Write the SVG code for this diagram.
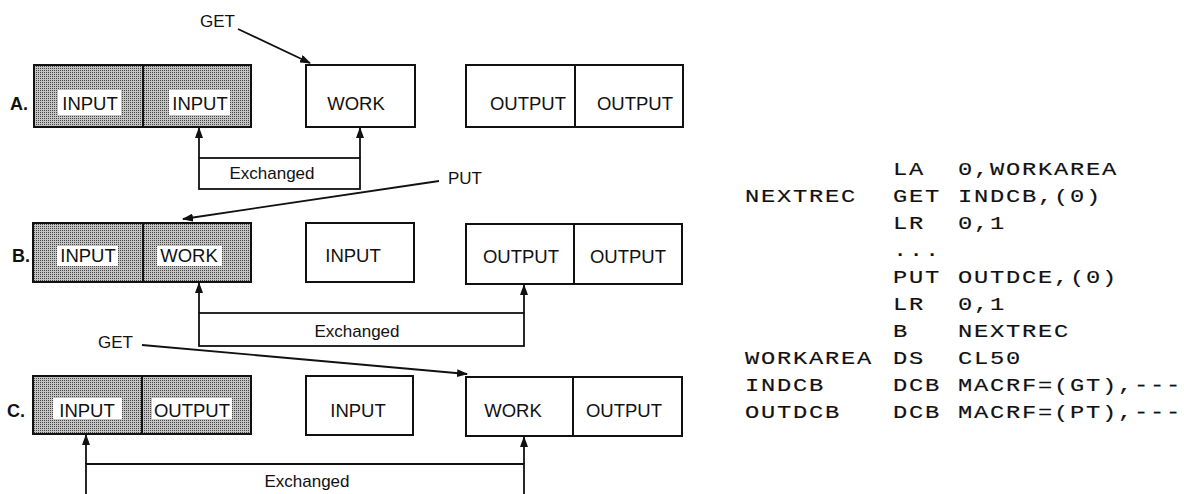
<svg xmlns="http://www.w3.org/2000/svg" width="1184" height="494" viewBox="0 0 1184 494">
<style>
.box{fill:#fff;stroke:#111;stroke-width:2}
.shade{fill:url(#stip);stroke:#111;stroke-width:2}
.lbl{font-family:"Liberation Sans",Arial,sans-serif;font-size:18.5px;fill:#111;text-anchor:middle}
.row{font-family:"Liberation Sans",Arial,sans-serif;font-size:18px;fill:#111;font-weight:bold}
.tag{font-family:"Liberation Sans",Arial,sans-serif;font-size:17px;fill:#111}
.bg{fill:#fff}
.ln{fill:none;stroke:#111;stroke-width:1.8}
.arr{fill:none;stroke:#111;stroke-width:1.8;marker-end:url(#ah)}
.code{font-family:"Liberation Mono","Courier New",monospace;font-size:19px;letter-spacing:1.4px;fill:#111;stroke:#111;stroke-width:0.15}
</style>
<defs>
<pattern id="stip" width="2" height="2" patternUnits="userSpaceOnUse">
<rect width="2" height="2" fill="#c4c4c4"/>
<rect x="0" y="0" width="1" height="1" fill="#444"/>
</pattern>
<marker id="ah" markerWidth="11" markerHeight="8" refX="10" refY="4" orient="auto" markerUnits="userSpaceOnUse">
<path d="M0,0 L11,4 L0,8 z" fill="#111"/>
</marker>
</defs>

<g id="rowA">
<text class="row" x="10" y="110">A.</text>
<g id="A-input1"><rect class="shade" x="34" y="65" width="109" height="62"/><rect class="bg" x="58" y="90" width="63" height="25"/><text class="lbl" x="90" y="110">INPUT</text></g>
<g id="A-input2"><rect class="shade" x="143" y="65" width="108" height="62"/><rect class="bg" x="169" y="90" width="61" height="25"/><text class="lbl" x="200" y="110">INPUT</text></g>
<g id="A-work"><rect class="box" x="306" y="65" width="109" height="62"/><text class="lbl" x="356" y="110">WORK</text></g>
<g id="A-output1"><rect class="box" x="466" y="65" width="109" height="62"/><text class="lbl" x="528" y="110">OUTPUT</text></g>
<g id="A-output2"><rect class="box" x="575" y="65" width="108" height="62"/><text class="lbl" x="635" y="110">OUTPUT</text></g>
</g>

<g id="rowB">
<text class="row" x="12" y="262">B.</text>
<g id="B-input1"><rect class="shade" x="33" y="223" width="110" height="59"/><rect class="bg" x="57" y="246" width="61" height="20"/><text class="lbl" x="88" y="262">INPUT</text></g>
<g id="B-work"><rect class="shade" x="143" y="223" width="108" height="59"/><rect class="bg" x="157" y="246" width="65" height="20"/><text class="lbl" x="189" y="262">WORK</text></g>
<g id="B-input2"><rect class="box" x="306" y="223" width="108" height="59"/><text class="lbl" x="353" y="262">INPUT</text></g>
<g id="B-output1"><rect class="box" x="466" y="224" width="108" height="60"/><text class="lbl" x="521" y="263">OUTPUT</text></g>
<g id="B-output2"><rect class="box" x="574" y="224" width="108" height="60"/><text class="lbl" x="628" y="263">OUTPUT</text></g>
</g>

<g id="rowC">
<text class="row" x="7" y="417">C.</text>
<g id="C-input1"><rect class="shade" x="33" y="376" width="109" height="58"/><rect class="bg" x="53" y="398" width="69" height="21"/><text class="lbl" x="87" y="417">INPUT</text></g>
<g id="C-output1"><rect class="shade" x="142" y="376" width="109" height="58"/><rect class="bg" x="152" y="398" width="80" height="21"/><text class="lbl" x="192" y="417">OUTPUT</text></g>
<g id="C-input2"><rect class="box" x="306" y="376" width="107" height="59"/><text class="lbl" x="358" y="417">INPUT</text></g>
<g id="C-work"><rect class="box" x="466" y="377" width="107" height="59"/><text class="lbl" x="513" y="417">WORK</text></g>
<g id="C-output2"><rect class="box" x="573" y="377" width="109" height="59"/><text class="lbl" x="624" y="417">OUTPUT</text></g>
</g>

<g id="connectors">
<text class="tag" x="200" y="27">GET</text>
<line class="arr" x1="238" y1="29" x2="310" y2="63"/>
<rect class="ln" x="199" y="158" width="161" height="31"/>
<line class="arr" x1="199" y1="158" x2="199" y2="128"/>
<line class="arr" x1="360" y1="158" x2="360" y2="128"/>
<text class="tag" x="272" y="179" text-anchor="middle">Exchanged</text>

<text class="tag" x="448" y="184">PUT</text>
<line class="arr" x1="439" y1="181" x2="183" y2="219"/>
<rect class="ln" x="199" y="313" width="325" height="33"/>
<line class="arr" x1="199" y1="313" x2="199" y2="283"/>
<line class="arr" x1="524" y1="313" x2="524" y2="285"/>
<text class="tag" x="357" y="337" text-anchor="middle">Exchanged</text>

<text class="tag" x="98" y="348">GET</text>
<line class="arr" x1="142" y1="345" x2="467" y2="374"/>
<path class="ln" d="M86,496 V464 H524 V496"/>
<line class="arr" x1="86" y1="464" x2="86" y2="435"/>
<line class="arr" x1="524" y1="464" x2="524" y2="437"/>
<text class="tag" x="307" y="487" text-anchor="middle">Exchanged</text>
</g>

<g id="code" transform="scale(1.25,1)">
<text class="code" x="714.4" y="175">LA</text><text class="code" x="766.4" y="175">0,WORKAREA</text>
<text class="code" x="596" y="202">NEXTREC</text><text class="code" x="714.4" y="202">GET</text><text class="code" x="766.4" y="202">INDCB,(0)</text>
<text class="code" x="714.4" y="229">LR</text><text class="code" x="766.4" y="229">0,1</text>
<text class="code" x="714.4" y="256">...</text>
<text class="code" x="714.4" y="283">PUT</text><text class="code" x="766.4" y="283">OUTDCE,(0)</text>
<text class="code" x="714.4" y="310">LR</text><text class="code" x="766.4" y="310">0,1</text>
<text class="code" x="714.4" y="337">B</text><text class="code" x="766.4" y="337">NEXTREC</text>
<text class="code" x="596" y="364">WORKAREA</text><text class="code" x="714.4" y="364">DS</text><text class="code" x="766.4" y="364">CL50</text>
<text class="code" x="596" y="391">INDCB</text><text class="code" x="714.4" y="391">DCB</text><text class="code" x="766.4" y="391">MACRF=(GT),---</text>
<text class="code" x="596" y="418">OUTDCB</text><text class="code" x="714.4" y="418">DCB</text><text class="code" x="766.4" y="418">MACRF=(PT),---</text>
</g>
</svg>
